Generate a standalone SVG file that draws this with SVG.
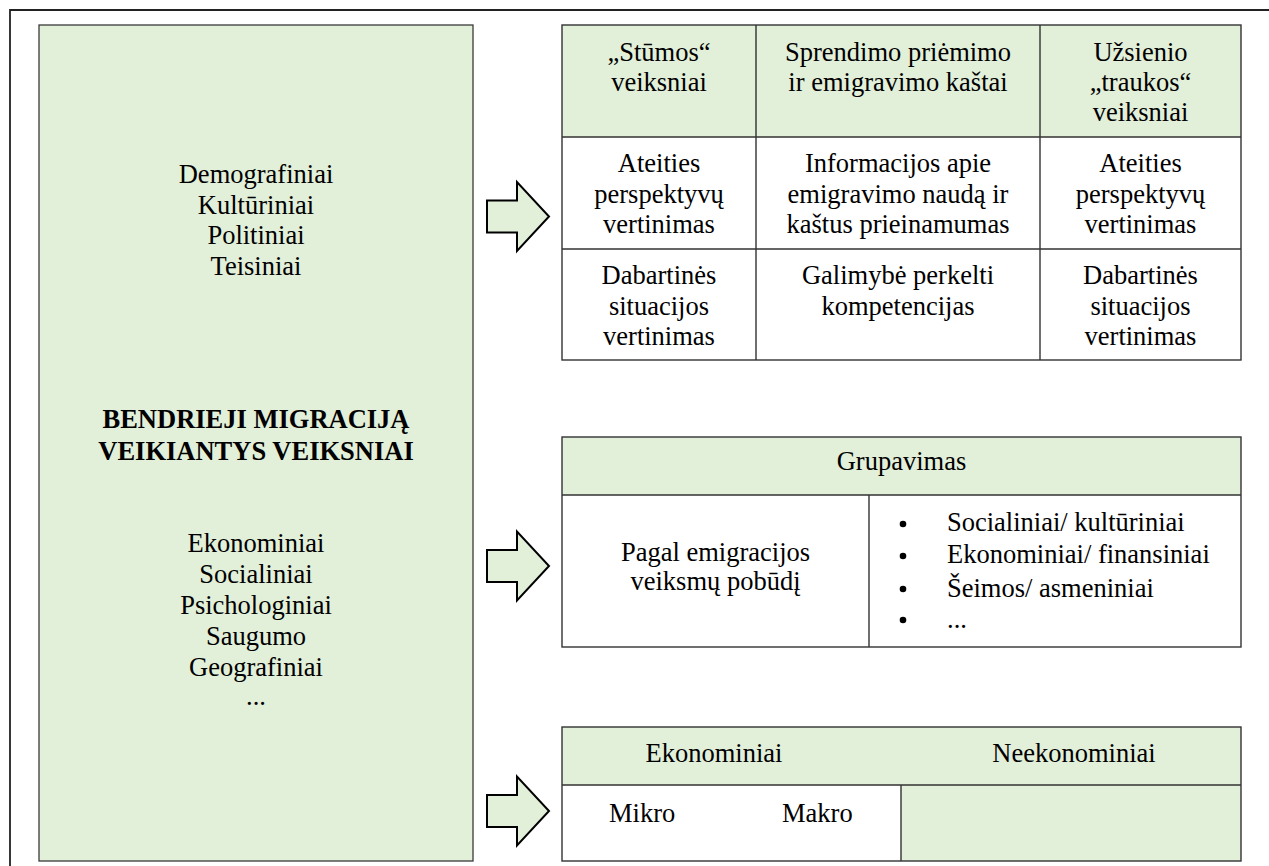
<svg xmlns="http://www.w3.org/2000/svg" width="1269" height="866" viewBox="0 0 1269 866">
<style>
text{font-family:"Liberation Serif","Times New Roman",serif;font-size:26.5px;fill:#000;}
.c{text-anchor:middle;}
.b{font-weight:bold;}
.green{fill:#e2efd9;}
.white{fill:#ffffff;}
.ln{stroke:#333;stroke-width:1.4;fill:none;}
.arrow{fill:#e2efd9;stroke:#000;stroke-width:2;stroke-linejoin:miter;}
</style>
<defs>
<path id="arr" d="M0,-16 H30 V-34.5 L62,0 L30,34.5 V16 H0 Z"/>
</defs>
<rect width="1269" height="866" fill="#fff"/>
<!-- outer frame (extends beyond canvas) -->
<path d="M10,870 V10 H1275" fill="none" stroke="#222" stroke-width="1.8"/>

<g id="general-factors">
<rect x="39" y="25" width="434" height="836" class="green" stroke="#3a3a3a" stroke-width="1.3"/>
<text class="c" x="256" y="183">Demografiniai</text>
<text class="c" x="256" y="213.5">Kultūriniai</text>
<text class="c" x="256" y="244">Politiniai</text>
<text class="c" x="256" y="275">Teisiniai</text>
<text class="c b" x="256" y="428">BENDRIEJI MIGRACIJĄ</text>
<text class="c b" x="256" y="460">VEIKIANTYS VEIKSNIAI</text>
<text class="c" x="256" y="552">Ekonominiai</text>
<text class="c" x="256" y="583">Socialiniai</text>
<text class="c" x="256" y="614">Psichologiniai</text>
<text class="c" x="256" y="645">Saugumo</text>
<text class="c" x="256" y="676">Geografiniai</text>
<text class="c" x="256" y="705">...</text>
</g>

<g id="connectors">
<use href="#arr" class="arrow" transform="translate(487,216.5)"/>
<use href="#arr" class="arrow" transform="translate(487,566)"/>
<use href="#arr" class="arrow" transform="translate(487,811)"/>
</g>

<g id="push-pull-table">
<rect x="562" y="25" width="679" height="112" class="green"/>
<rect x="562" y="137" width="679" height="223" class="white"/>
<rect x="562" y="25" width="679" height="335" class="ln"/>
<path class="ln" d="M562,137 H1241 M562,249 H1241 M756,25 V360 M1040,25 V360"/>
<text class="c" x="659" y="61">„Stūmos“</text>
<text class="c" x="659" y="91">veiksniai</text>
<text class="c" x="898" y="61">Sprendimo priėmimo</text>
<text class="c" x="898" y="91">ir emigravimo kaštai</text>
<text class="c" x="1140.5" y="61">Užsienio</text>
<text class="c" x="1140.5" y="91">„traukos“</text>
<text class="c" x="1140.5" y="121">veiksniai</text>
<text class="c" x="659" y="172">Ateities</text>
<text class="c" x="659" y="202.5">perspektyvų</text>
<text class="c" x="659" y="233">vertinimas</text>
<text class="c" x="898" y="172">Informacijos apie</text>
<text class="c" x="898" y="202.5">emigravimo naudą ir</text>
<text class="c" x="898" y="233">kaštus prieinamumas</text>
<text class="c" x="1140.5" y="172">Ateities</text>
<text class="c" x="1140.5" y="202.5">perspektyvų</text>
<text class="c" x="1140.5" y="233">vertinimas</text>
<text class="c" x="659" y="284">Dabartinės</text>
<text class="c" x="659" y="314.5">situacijos</text>
<text class="c" x="659" y="345">vertinimas</text>
<text class="c" x="898" y="284">Galimybė perkelti</text>
<text class="c" x="898" y="314.5">kompetencijas</text>
<text class="c" x="1140.5" y="284">Dabartinės</text>
<text class="c" x="1140.5" y="314.5">situacijos</text>
<text class="c" x="1140.5" y="345">vertinimas</text>
</g>

<g id="grouping-table">
<rect x="562" y="437" width="679" height="58" class="green"/>
<rect x="562" y="495" width="679" height="152" class="white"/>
<rect x="562" y="437" width="679" height="210" class="ln"/>
<path class="ln" d="M562,495 H1241 M869,495 V647"/>
<text class="c" x="901.5" y="470">Grupavimas</text>
<text class="c" x="715.5" y="561">Pagal emigracijos</text>
<text class="c" x="715.5" y="590">veiksmų pobūdį</text>
<circle cx="903" cy="524" r="3.3" fill="#000"/>
<circle cx="903" cy="556" r="3.3" fill="#000"/>
<circle cx="903" cy="589" r="3.3" fill="#000"/>
<circle cx="903" cy="620" r="3.3" fill="#000"/>
<text x="947" y="530.5">Socialiniai/ kultūriniai</text>
<text x="947" y="563">Ekonominiai/ finansiniai</text>
<text x="947" y="596.5">Šeimos/ asmeniniai</text>
<text x="947" y="628">...</text>
</g>

<g id="economic-table">
<rect x="562" y="727" width="679" height="58" class="green"/>
<rect x="562" y="785" width="339" height="76" class="white"/>
<rect x="901" y="785" width="340" height="76" class="green"/>
<rect x="562" y="727" width="679" height="134" class="ln"/>
<path class="ln" d="M562,785 H1241 M901,785 V861"/>
<text class="c" x="714" y="762">Ekonominiai</text>
<text class="c" x="1074" y="762">Neekonominiai</text>
<text x="609" y="822">Mikro</text>
<text x="782" y="822">Makro</text>
</g>
</svg>
